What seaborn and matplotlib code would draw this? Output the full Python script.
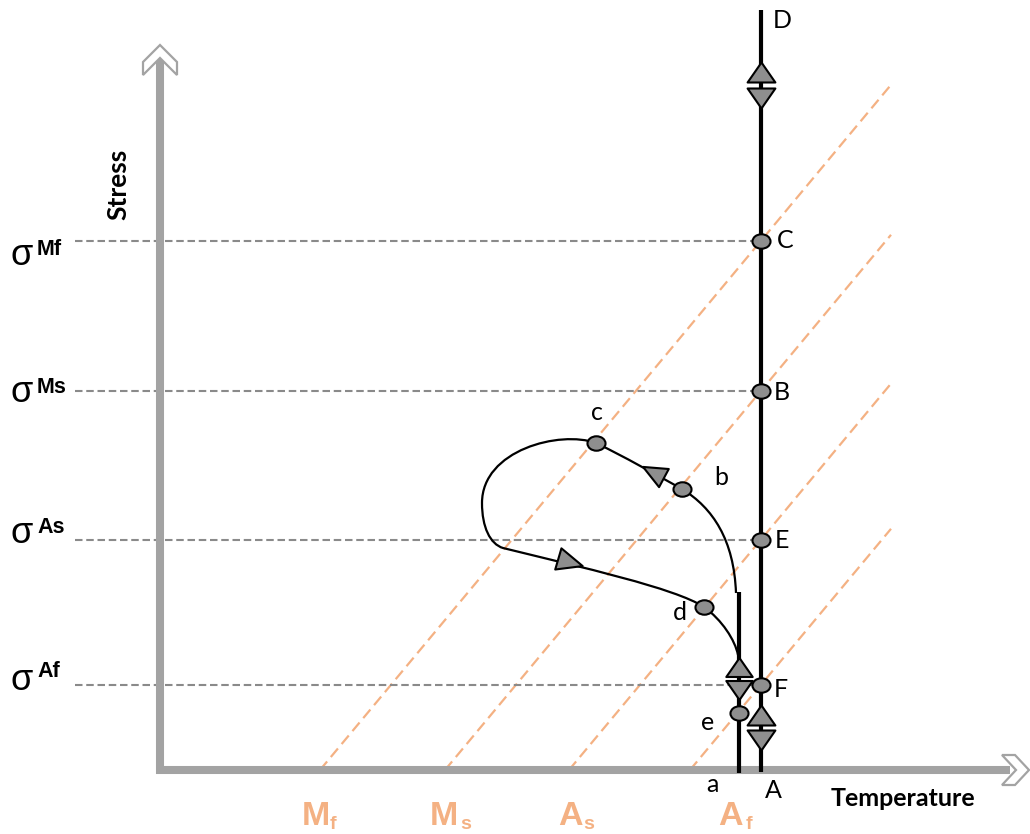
import numpy as np
import pandas as pd
import matplotlib
matplotlib.use("Agg")
import matplotlib.pyplot as plt
from matplotlib.path import Path
from matplotlib.patches import PathPatch, Polygon
import seaborn as sns

# ---------------------------------------------------------------- data
# transformation boundaries: name, subscript, temperature at zero stress
phase_main = ["M", "M", "A", "A"]
phase_sub = ["f", "s", "s", "f"]
phase_T0 = [160, 285, 409, 530]
boundary_slope = 1.2          # Clausius-Clapeyron slope (stress / temperature)
boundary_T_end = 731

# isothermal test temperature (path A -> D) and lower temperature (path a)
T_A = 601
T_a = 579
A_top = 760
a_top = 178

# critical stresses along the isotherm, same order as the boundaries
stress_names = ["Mf", "Ms", "As", "Af"]
stress_points = ["C", "B", "E", "F"]
stress_levels = [boundary_slope * (T_A - t0) for t0 in phase_T0]

# load path a -> e -> b -> c -> loop -> d -> back down (Bezier control points)
loop_verts = [
    (576, 177),
    (574, 230), (553, 262), (522, 281),      # up to b
    (493, 297), (465, 313), (436, 327),      # b -> c
    (400, 340), (322, 320), (322, 267),      # over the top of the loop
    (322, 243), (330, 226), (343, 222),      # down the left side
    (420, 203), (515, 182), (544, 163),      # through d
    (562, 150), (575, 130), (578, 115),      # back to the thick segment
]
loop_codes = [Path.MOVETO] + [Path.CURVE4] * 18

# labelled states on the load path
path_names = ["a", "e", "d", "b", "c"]
path_T = [579, 579, 544, 522, 436]
path_S = [-3, 57, 163, 281, 327]

# direction arrows
A_up = [698, 55]
A_down = [672, 30]
a_up = [103]
a_down = [80]
loop_arrow_T = [493, 410]
loop_arrow_S = [298, 208]

# ---------------------------------------------------------------- style
sns.set_theme(style="white")
plt.rcParams["font.family"] = ["Lato", "DejaVu Sans"]

AXIS_GREY = "#a3a3a3"
DASH_GREY = "#8a8a8a"
ORANGE = "#f4b183"
MARK_GREY = "#8e8e8e"

fig = plt.figure(figsize=(10.3, 8.34), dpi=100)
ax = fig.add_axes([0, 0, 1, 1])
ax.set_xlim(-160, 870)
ax.set_ylim(-64, 770)
ax.axis("off")

# ---------------------------------------------------------------- axes arrows
ax.plot([0, 0], [-4, 714], color=AXIS_GREY, lw=5.8, solid_capstyle="butt", zorder=2)
ax.plot([-4, 850], [0, 0], color=AXIS_GREY, lw=5.8, solid_capstyle="butt", zorder=2)
ax.add_patch(Polygon([(0, 725), (17, 708), (17, 695), (0, 712), (-17, 695), (-17, 708)],
                     closed=True, fc="white", ec=AXIS_GREY, lw=1.6, zorder=3))
ax.add_patch(Polygon([(842, 15), (855, 15), (869, 0), (855, -15), (842, -15), (856, 0)],
                     closed=True, fc="white", ec=AXIS_GREY, lw=1.6, zorder=3))
ax.text(-42, 586, "Stress", rotation=90, ha="center", va="center",
        fontsize=19, fontweight="bold", color="black")
ax.text(743, -28, "Temperature", ha="center", va="center",
        fontsize=18, fontweight="bold", color="black")

# ---------------------------------------------------------------- phase boundaries
rows = []
for i, t0 in enumerate(phase_T0):
    t_end = boundary_T_end - (1 if i == 0 else 0)
    for t in (t0, t_end):
        rows.append({"T": t, "S": boundary_slope * (t - t0), "line": i})
bdf = pd.DataFrame(rows)
sns.lineplot(data=bdf, x="T", y="S", units="line", estimator=None,
             color=ORANGE, lw=1.6, ax=ax, zorder=1, legend=False,
             linestyle=(0, (5, 2.6)))

main_x = [142, 270, 398, 558]
sub_x = [170, 300, 423, 586]
for mx, sx, m, sub in zip(main_x, sub_x, phase_main, phase_sub):
    ax.text(mx, -55, m, ha="left", va="baseline", fontsize=24.5,
            fontweight="bold", color=ORANGE, family="Liberation Sans")
    ax.text(sx, -59, sub, ha="left", va="baseline",
            fontsize=14, fontweight="bold", color=ORANGE, family="Liberation Sans")

# ---------------------------------------------------------------- critical stress levels
sig_offsets = [(-24, -14), (-11, -2), (-3, 7), (-5, 8)]
for lvl, name, (d_sig, d_sup) in zip(stress_levels, stress_names, sig_offsets):
    ax.plot([-85, T_A], [lvl, lvl], color=DASH_GREY, lw=1.5,
            linestyle=(0, (3.6, 1.8)), zorder=1)
    ax.text(-149, lvl + d_sig, "σ", ha="left", va="baseline", fontsize=26,
            color="black", family="Liberation Sans")
    ax.text(-123, lvl + d_sup, name, ha="left", va="baseline", fontsize=15.5,
            fontweight="bold", color="black", family="Liberation Sans")

# ---------------------------------------------------------------- loading paths
ax.plot([T_A, T_A], [-2, A_top], color="black", lw=3, solid_capstyle="butt", zorder=4)
ax.plot([T_a, T_a], [-3, a_top], color="black", lw=3, solid_capstyle="butt", zorder=4)
ax.add_patch(PathPatch(Path(loop_verts, loop_codes), fc="none", ec="black",
                       lw=1.6, zorder=4))

# marker shapes
ell = Path.unit_circle()
ell = Path(ell.vertices * np.array([1.0, 0.8]), ell.codes)


def tri(angle_deg, half_h):
    v = np.array([(0, half_h), (-1.0, -half_h), (1.0, -half_h), (0, half_h)])
    a = np.deg2rad(angle_deg)
    rot = np.array([[np.cos(a), -np.sin(a)], [np.sin(a), np.cos(a)]])
    return Path(v @ rot.T, [Path.MOVETO, Path.LINETO, Path.LINETO, Path.CLOSEPOLY])


tri_kw = dict(ls="none", mfc=MARK_GREY, mec="black", mew=1.5, zorder=6)
ax.plot([T_A] * len(A_up), A_up, marker=tri(0, 0.72), ms=20, **tri_kw)
ax.plot([T_A] * len(A_down), A_down, marker=tri(180, 0.72), ms=20, **tri_kw)
ax.plot([T_a] * len(a_up), a_up, marker=tri(0, 0.72), ms=19, **tri_kw)
ax.plot([T_a] * len(a_down), a_down, marker=tri(180, 0.72), ms=19, **tri_kw)

# loop arrows point along the path
dirs = [np.degrees(np.arctan2(path_S[4] - path_S[3], path_T[4] - path_T[3])),
        np.degrees(np.arctan2(path_S[2] - 222, path_T[2] - 343))]
for t, s, d in zip(loop_arrow_T, loop_arrow_S, dirs):
    ax.plot([t], [s], marker=tri(d - 90, 1.15), ms=22, **tri_kw)

circ_kw = dict(ls="none", marker=ell, ms=13, mfc=MARK_GREY, mec="black", mew=1.5, zorder=7)
ax.plot([T_A] * len(stress_levels), stress_levels, **circ_kw)
ax.plot(path_T[1:], path_S[1:], **circ_kw)

# ---------------------------------------------------------------- point labels
lab_kw = dict(textcoords="offset pixels", ha="center", va="center",
              fontsize=18, color="black")
pt_offsets = [(24, 0), (21, -2), (21, -1), (20, -5)]
for lvl, nm, off in zip(stress_levels, stress_points, pt_offsets):
    ax.annotate(nm, (T_A, lvl), xytext=off, **lab_kw)
ax.annotate("D", (T_A, A_top), xytext=(21, -10), **lab_kw)
ax.annotate("A", (T_A, -2), xytext=(12, -18), **lab_kw)
path_offsets = [(-27, -12), (-31, -9), (-24, -6), (39, 12), (1, 31)]
for nm, t, s, off in zip(path_names, path_T, path_S, path_offsets):
    ax.annotate(nm, (t, s), xytext=off, **lab_kw)

fig.savefig("out.png", dpi=100)
